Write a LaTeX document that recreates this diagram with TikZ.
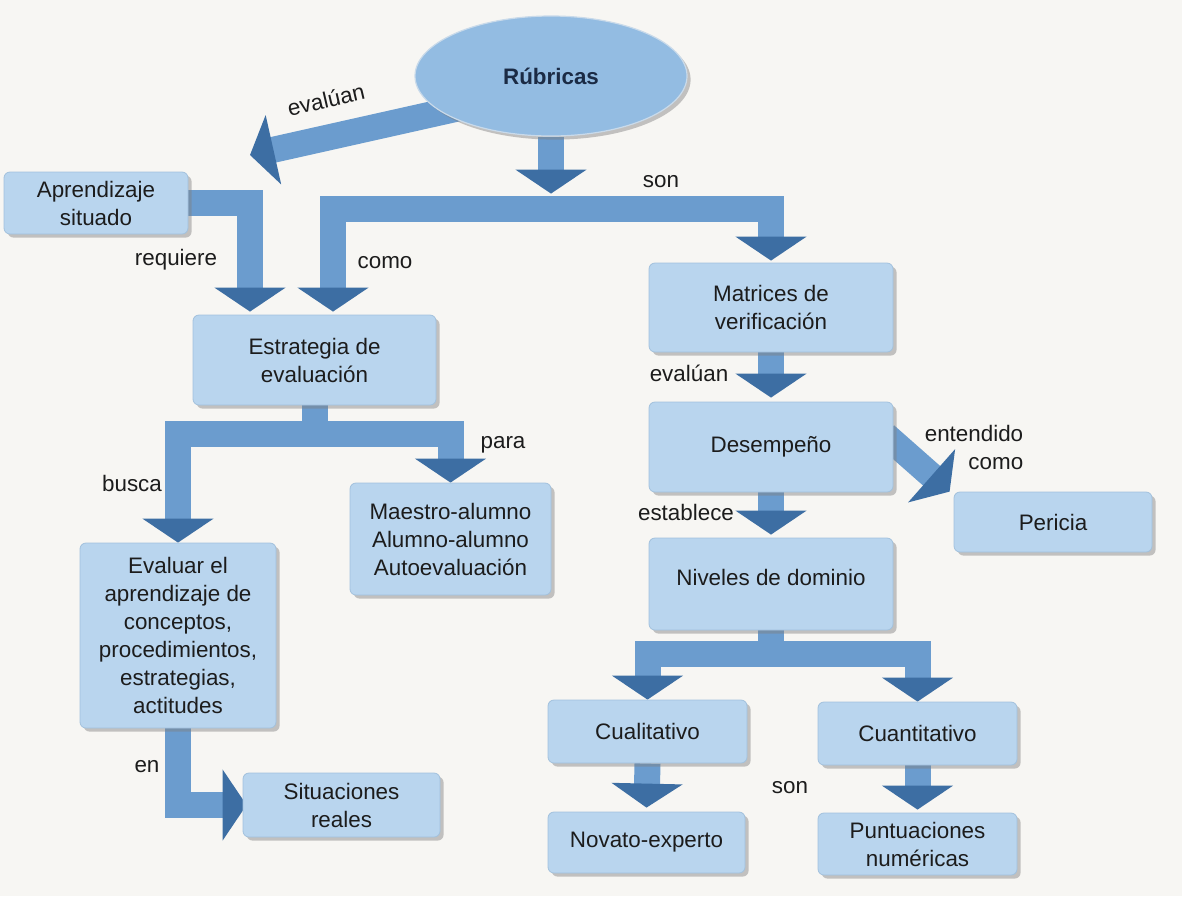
\documentclass[tikz,border=0pt]{standalone}
\usepackage{fontspec}
\setmainfont{Liberation Sans}
\usepackage{xcolor}
\usetikzlibrary{arrows.meta,positioning,shapes.geometric,shadows,backgrounds}
\definecolor{PaperBG}  {HTML}{F7F6F3}
\definecolor{BoxFill}  {HTML}{B9D5EE}
\definecolor{BoxEdge}  {HTML}{A2C1DD}
\definecolor{OvalFill} {HTML}{93BCE2}
\definecolor{OvalEdge} {HTML}{C9DAEA}
\definecolor{ArrowBlue}{HTML}{6B9CCE}
\definecolor{ArrowDeep}{HTML}{3D6EA3}
\definecolor{InkText}  {HTML}{1C1C1C}
\definecolor{OvalText} {HTML}{1B2B45}

\tikzset{
  concept/.style={rectangle,rounded corners=3pt,fill=BoxFill,draw=BoxEdge,line width=.4pt,
    text=InkText,align=center,inner sep=2pt,
    drop shadow={shadow xshift=1.8pt,shadow yshift=-1.8pt,fill=black!50,opacity=.45}},
  oval/.style={ellipse,fill=OvalFill,draw=OvalEdge,line width=.6pt,text=OvalText,
    minimum width=136pt,minimum height=60pt,
    drop shadow={shadow xshift=1.8pt,shadow yshift=-1.8pt,fill=black!50,opacity=.45}},
  conn/.style={draw=ArrowBlue,line width=13pt,
    -{Triangle[length=12pt,width=35pt,color=ArrowDeep,fill=ArrowDeep]}},
  linkword/.style={text=InkText,inner sep=1pt},
}

\begin{document}
\begin{tikzpicture}[x=0.5pt,y=-0.5pt,font=\fontsize{11.2}{14}\selectfont]
    \useasboundingbox (0,0) rectangle (1182,896);

    % conceptos
    \node[oval] (rub) at (551,76) {\textbf{Rúbricas}};
    \node[concept,minimum width=92pt,minimum height=31pt] (apr) at (96,203) {Aprendizaje\\situado};
    \node[concept,minimum width=121.5pt,minimum height=45pt] (est) at (314.5,360) {Estrategia de\\evaluación};
    \node[concept,minimum width=122pt,minimum height=44.5pt] (mat) at (771,307.5) {Matrices de\\verificación};
    \node[concept,minimum width=122pt,minimum height=45pt] (des) at (771,447) {Desempeño};
    \node[concept,minimum width=99pt,minimum height=30pt] (per) at (1053,522) {Pericia};
    \node[concept,minimum width=122pt,minimum height=46pt,text depth=7pt] (niv) at (771,584) {Niveles de dominio};
    \node[concept,minimum width=100.5pt,minimum height=56pt] (mae) at (450.5,539) {Maestro-alumno\\Alumno-alumno\\Autoevaluación};
    \node[concept,minimum width=98pt,minimum height=92.5pt] (eva) at (178,635.5) {Evaluar el\\aprendizaje de\\conceptos,\\procedimientos,\\estrategias,\\actitudes};
    \node[concept,minimum width=98.5pt,minimum height=32pt] (sit) at (341.5,805) {Situaciones\\reales};
    \node[concept,minimum width=99.5pt,minimum height=31.5pt] (cual) at (647.5,731.5) {Cualitativo};
    \node[concept,minimum width=99.5pt,minimum height=31.5pt] (cuan) at (917.5,733.5) {Cuantitativo};
    \node[concept,minimum width=98.5pt,minimum height=30.5pt] (nov) at (646.5,842.5) {Novato-experto};
    \node[concept,minimum width=99.5pt,minimum height=31pt] (pun) at (917.5,844) {Puntuaciones\\numéricas};

    % palabras de enlace
    \node[linkword,rotate=13] (lEval) at (326,100) {evalúan};
    \node[linkword] (lSon) at (661,182) {son};
    \node[linkword] (lReq) at (176,260) {requiere};
    \node[linkword] (lComo) at (385,263) {como};
    \node[linkword] (lEval2) at (689,373) {evalúan};
    \node[linkword,align=right] (lEnt) at (974,447) {entendido\\como};
    \node[linkword] (lPara) at (503,445) {para};
    \node[linkword] (lBusca) at (132,483) {busca};
    \node[linkword] (lEst) at (686,512) {establece};
    \node[linkword] (lEn) at (147,767) {en};
    \node[linkword] (lSon2) at (790,788) {son};

    \coordinate (evaltip) at (250,155);
    \coordinate (rubtip) at ([yshift=-28.5pt]rub.south);
    \coordinate (rubbar) at ([yshift=-36pt]rub.south);

    \begin{scope}[on background layer]
      \fill[PaperBG] (0,0) rectangle (1182,896);
      \draw[conn] ([shift={(-25.5pt,-11.5pt)}]rub.center) -- (evaltip);
      \draw[conn] (rub.south) -- (rubtip);
      \draw[conn] (rubbar) -| ([xshift=9.25pt,yshift=1.5pt]est.north);
      \draw[conn] (rubbar) -| ([yshift=1pt]mat.north);
      \draw[conn] (apr.east) -| ([xshift=-32.25pt,yshift=1.5pt]est.north);
      \draw[conn] (est.south) -- ++(0,29) -| (eva.north);
      \draw[conn] (est.south) -- ++(0,29) -| (mae.north);
      \draw[conn] (eva.south) |- ([xshift=2pt]sit.west);
      \draw[conn] (mat.south) -- ([yshift=2pt]des.north);
      \draw[conn] ([shift={(-4pt,6pt)}]des.east) -- ([xshift=-2pt]per.north west);
      \draw[conn] (des.south) -- ([yshift=1.5pt]niv.north);
      \draw[conn] (niv.south) -- ++(0,24) -| (cual.north);
      \draw[conn] (niv.south) -- ++(0,24) -| (cuan.north);
      \draw[conn] (cual.south) -- ([yshift=2pt]nov.north);
      \draw[conn] (cuan.south) -- ([yshift=1.5pt]pun.north);
    \end{scope}
\end{tikzpicture}
\end{document}
